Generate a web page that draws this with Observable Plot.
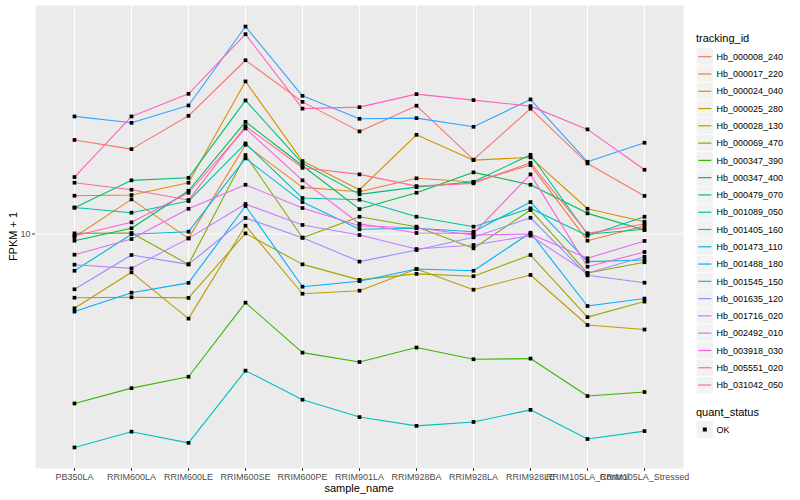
<!DOCTYPE html>
<html>
<head>
<meta charset="utf-8">
<script src="https://cdn.jsdelivr.net/npm/d3@7"></script>
<script src="https://cdn.jsdelivr.net/npm/@observablehq/plot@0.6"></script>
<style>
  html, body { margin: 0; padding: 0; background: #fff; }
  #chart { width: 800px; height: 500px; }
</style>
</head>
<body>
<div id="chart"></div>
<script>
// x categories
const samples = ["PB350LA","RRIM600LA","RRIM600LE","RRIM600SE","RRIM600PE","RRIM901LA","RRIM928BA","RRIM928LA","RRIM928LE","RRIM105LA_Control","RRIM105LA_Stressed"];

// series (FPKM + 1), in sample order
const Hb_000008_240 = [20.6, 19.2, 24.8, 38.0, 27.6, 22.0, 26.8, 17.7, 26.2, 17.2, 13.4];
const Hb_000017_220 = [9.77, 13.05, 9.67, 19.85, 14.31, 13.84, 15.34, 14.91, 16.98, 9.50, 10.63];
const Hb_000024_040 = [13.42, 13.49, 14.83, 32.3, 17.51, 14.05, 21.43, 17.64, 18.02, 12.14, 10.99];
const Hb_000025_280 = [5.65, 7.45, 5.22, 10.66, 6.32, 6.47, 7.64, 6.52, 7.30, 4.97, 4.80];
const Hb_000028_130 = [6.13, 6.15, 6.12, 10.05, 7.92, 7.03, 7.36, 7.23, 8.51, 5.28, 5.95];
const Hb_000069_470 = [10.05, 10.08, 7.92, 18.34, 9.72, 11.42, 10.58, 8.96, 12.02, 7.41, 8.05];
const Hb_000347_390 = [2.72, 3.06, 3.34, 5.90, 4.02, 3.74, 4.18, 3.82, 3.84, 2.88, 2.97];
const Hb_000347_400 = [9.50, 10.45, 13.94, 23.68, 16.89, 12.11, 13.73, 16.06, 14.60, 11.72, 10.31];
const Hb_000479_070 = [12.24, 15.10, 15.40, 27.91, 17.21, 13.56, 14.34, 14.94, 18.38, 9.98, 10.37];
const Hb_001089_050 = [12.26, 11.78, 12.88, 20.06, 13.18, 13.01, 11.42, 10.58, 12.18, 9.87, 11.42];
const Hb_001405_160 = [1.94, 2.19, 2.01, 3.50, 2.80, 2.45, 2.29, 2.36, 2.59, 2.07, 2.20];
const Hb_001473_110 = [7.54, 9.98, 10.18, 17.88, 12.78, 10.37, 10.45, 10.18, 12.78, 8.09, 8.19];
const Hb_001488_180 = [5.51, 6.37, 6.87, 12.40, 6.67, 6.96, 7.64, 7.54, 10.10, 5.75, 6.09];
const Hb_001545_150 = [24.68, 23.50, 26.85, 49.23, 28.91, 24.23, 24.36, 22.79, 28.12, 17.42, 20.16];
const Hb_001635_120 = [6.54, 8.51, 7.92, 11.31, 9.72, 8.09, 8.84, 9.75, 11.33, 7.28, 6.88];
const Hb_001716_020 = [7.90, 7.68, 9.67, 12.59, 10.72, 9.92, 8.91, 9.19, 9.87, 7.41, 8.40];
const Hb_002492_010 = [8.53, 9.62, 12.14, 14.60, 12.21, 10.66, 10.47, 9.92, 10.00, 8.30, 9.48];
const Hb_003918_030 = [9.87, 10.94, 13.73, 22.51, 15.10, 10.82, 10.08, 10.05, 15.81, 7.78, 8.71];
const Hb_005551_020 = [15.49, 24.68, 29.36, 46.42, 26.20, 26.50, 29.29, 27.97, 26.71, 22.34, 16.38];
const Hb_031042_050 = [14.83, 14.05, 12.98, 22.91, 16.63, 15.81, 14.45, 14.76, 17.28, 10.05, 10.80];

const trackingIds = ["Hb_000008_240","Hb_000017_220","Hb_000024_040","Hb_000025_280","Hb_000028_130","Hb_000069_470","Hb_000347_390","Hb_000347_400","Hb_000479_070","Hb_001089_050","Hb_001405_160","Hb_001473_110","Hb_001488_180","Hb_001545_150","Hb_001635_120","Hb_001716_020","Hb_002492_010","Hb_003918_030","Hb_005551_020","Hb_031042_050"];
const seriesValues = [Hb_000008_240,Hb_000017_220,Hb_000024_040,Hb_000025_280,Hb_000028_130,Hb_000069_470,Hb_000347_390,Hb_000347_400,Hb_000479_070,Hb_001089_050,Hb_001405_160,Hb_001473_110,Hb_001488_180,Hb_001545_150,Hb_001635_120,Hb_001716_020,Hb_002492_010,Hb_003918_030,Hb_005551_020,Hb_031042_050];
const hueColors = ["#F8766D","#EA8331","#D89000","#C09B00","#A3A500","#7CAE00","#39B600","#00BB4E","#00BF7D","#00C1A3","#00BFC4","#00BAE0","#00B0F6","#35A2FF","#9590FF","#C77CFF","#E76BF3","#FA62DB","#FF62BC","#FF6C91"];
const yTicks = [10];
const quantStatus = ["OK"];

const rows = [];
trackingIds.forEach((id, i) => {
  samples.forEach((s, j) => rows.push({tracking_id: id, sample_name: s, fpkm: seriesValues[i][j], quant_status: "OK"}));
});

// ggplot-like 5% expansion in log space
const ext = d3.extent(rows, d => d.fpkm);
const lr = Math.log10(ext[1]) - Math.log10(ext[0]);
const yDomain = [ext[0] / Math.pow(10, lr * 0.05), ext[1] * Math.pow(10, lr * 0.05)];

const font = "'Liberation Sans', Arial, Helvetica, sans-serif";

const chart = Plot.plot({
  width: 800,
  height: 500,
  marginTop: 5,
  marginBottom: 32,
  marginLeft: 35,
  marginRight: 117,
  style: {fontFamily: font, background: "white", overflow: "visible"},
  x: {type: "point", domain: samples, padding: 0.6, label: null},
  y: {type: "log", domain: yDomain, label: null},
  color: {domain: trackingIds, range: hueColors},
  marks: [
    Plot.frame({fill: "#EBEBEB", stroke: null}),
    Plot.gridX({stroke: "white", strokeOpacity: 1, strokeWidth: 1.1}),
    Plot.gridY(yTicks, {stroke: "white", strokeOpacity: 1, strokeWidth: 1.1}),
    Plot.line(rows, {x: "sample_name", y: "fpkm", z: "tracking_id", stroke: "tracking_id", strokeWidth: 1.1}),
    Plot.dot(rows, {x: "sample_name", y: "fpkm", symbol: "square", r: 2.1, fill: "black", stroke: null}),
    Plot.axisX({tickSize: 3, tickPadding: 2, fontSize: 9, color: "#4D4D4D", stroke: "#333333", label: null}),
    Plot.axisY(yTicks, {tickSize: 3, tickPadding: 2, fontSize: 9, color: "#4D4D4D", stroke: "#333333", tickFormat: d => String(d), label: null})
  ]
});

document.getElementById("chart").appendChild(chart);

const svg = d3.select(chart);
const colorScale = chart.scale("color");
const colorOf = (id, i) => (colorScale && typeof colorScale.apply === "function" && colorScale.apply(id)) || hueColors[i];

// axis titles
svg.append("text").attr("x", 359).attr("y", 492).attr("text-anchor", "middle")
  .attr("font-size", 11).attr("fill", "black").attr("font-family", font).text("sample_name");
svg.append("text").attr("transform", "translate(16.5,236.5) rotate(-90)").attr("text-anchor", "middle")
  .attr("font-size", 11).attr("fill", "black").attr("font-family", font).text("FPKM + 1");

// legend: tracking_id
const lg = svg.append("g").attr("font-family", font).attr("text-anchor", "start");
lg.append("text").attr("x", 696).attr("y", 42).attr("font-size", 11).attr("fill", "black").attr("text-anchor", "start").text("tracking_id");
trackingIds.forEach((id, i) => {
  const cy = 56.7 + i * 17.28;
  lg.append("rect").attr("x", 696.5).attr("y", cy - 8.3).attr("width", 16.6).attr("height", 16.6).attr("fill", "#F2F2F2").attr("stroke", "none");
  lg.append("line").attr("x1", 698.2).attr("x2", 711.4).attr("y1", cy).attr("y2", cy)
    .attr("stroke", colorOf(id, i)).attr("stroke-width", 1.2);
  lg.append("text").attr("x", 716.5).attr("y", cy + 3.2).attr("font-size", 9).attr("fill", "black").attr("text-anchor", "start").text(id);
});

// legend: quant_status
lg.append("text").attr("x", 696).attr("y", 416).attr("font-size", 11).attr("fill", "black").attr("text-anchor", "start").text("quant_status");
quantStatus.forEach((q, i) => {
  const cy = 429.5 + i * 17.28;
  lg.append("rect").attr("x", 696.5).attr("y", cy - 8.3).attr("width", 16.6).attr("height", 16.6).attr("fill", "#F2F2F2").attr("stroke", "none");
  lg.append("rect").attr("x", 702.8).attr("y", cy - 2).attr("width", 4).attr("height", 4).attr("fill", "black");
  lg.append("text").attr("x", 716.5).attr("y", cy + 3.2).attr("font-size", 9).attr("fill", "black").attr("text-anchor", "start").text(q);
});
</script>
</body>
</html>
